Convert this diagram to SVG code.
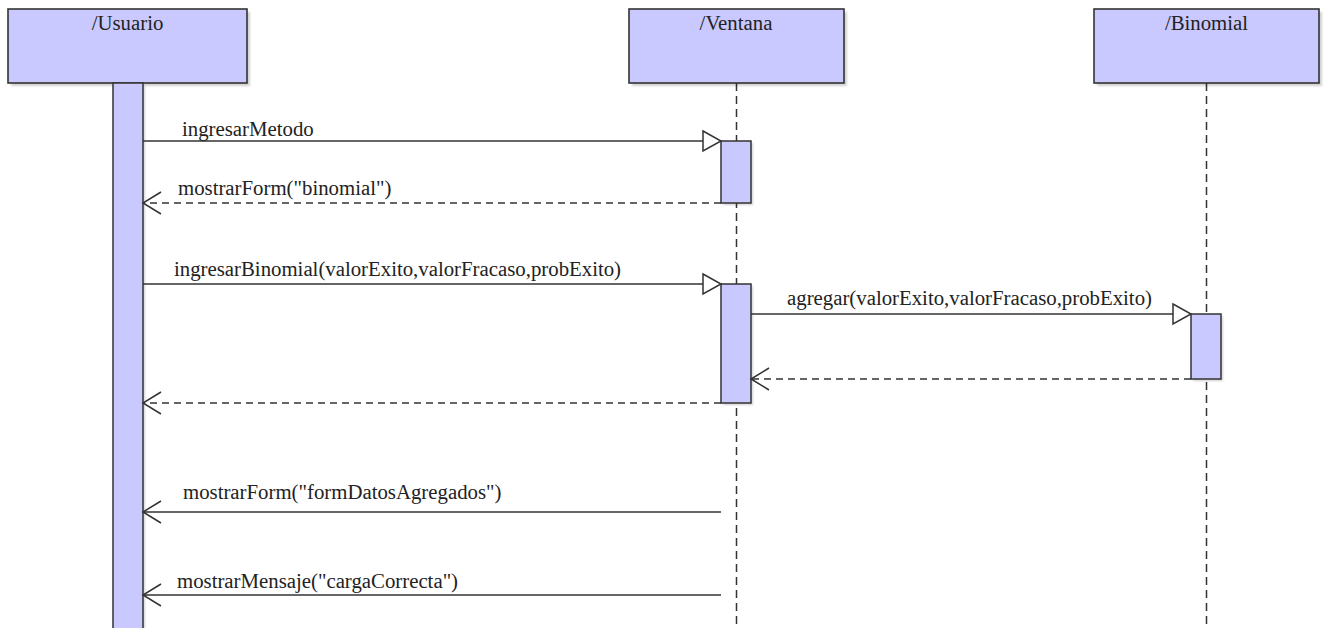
<svg xmlns="http://www.w3.org/2000/svg" width="1327" height="628" viewBox="0 0 1327 628">
  <style>
    .head { fill: #c9c9ff; stroke: #333; stroke-width: 1.6; }
    .shadow { fill: #000; opacity: 0.18; }
    .act { fill: #c9c9ff; stroke: #333; stroke-width: 1.5; }
    .life { stroke: #333; stroke-width: 1.5; stroke-dasharray: 8 5; fill: none; }
    .msg { stroke: #333; stroke-width: 1.5; fill: none; }
    .ret { stroke: #333; stroke-width: 1.5; fill: none; stroke-dasharray: 7 5; }
    .call { marker-end: url(#tri); }
    .reply { marker-end: url(#open); }
    .lbl { font-family: 'Liberation Serif', 'Times New Roman', serif; font-size: 20.8px; fill: #222; }
    .title { text-anchor: middle; }
  </style>
  <defs>
    <filter id="blur" x="-10%" y="-10%" width="120%" height="120%">
      <feGaussianBlur stdDeviation="1"/>
    </filter>
    <!-- hollow triangle for synchronous calls -->
    <marker id="tri" markerUnits="userSpaceOnUse" orient="auto" refX="0" refY="0" markerWidth="20" markerHeight="24" overflow="visible">
      <path d="M-18,-10 L0,0 L-18,10 Z" fill="#fff" stroke="#333" stroke-width="1.5" stroke-linejoin="miter"/>
    </marker>
    <!-- open chevron for replies -->
    <marker id="open" markerUnits="userSpaceOnUse" orient="auto" refX="0" refY="0" markerWidth="20" markerHeight="24" overflow="visible">
      <path d="M-18,-11 L0,0 L-18,11" fill="none" stroke="#333" stroke-width="1.5"/>
    </marker>
  </defs>

  <rect width="1327" height="628" fill="#fff"/>

  <!-- lifelines -->
  <g id="lifelines">
    <line class="life" x1="736.5" y1="83" x2="736.5" y2="628"/>
    <line class="life" x1="1206.5" y1="83" x2="1206.5" y2="628"/>
  </g>

  <g id="usuario">
    <rect class="shadow" x="11" y="12" width="239" height="74" filter="url(#blur)"/>
    <rect class="head" x="8" y="9" width="239" height="74"/>
    <text class="lbl title" x="127.5" y="30">/Usuario</text>
    <rect class="shadow" x="115" y="86" width="30" height="545" filter="url(#blur)"/>
    <rect class="act" x="113" y="83" width="30" height="550"/>
  </g>

  <g id="ventana">
    <rect class="shadow" x="632" y="12" width="215" height="74" filter="url(#blur)"/>
    <rect class="head" x="629" y="9" width="215" height="74"/>
    <text class="lbl title" x="736" y="30">/Ventana</text>
    <rect class="shadow" x="723" y="143" width="30" height="62" filter="url(#blur)"/>
    <rect class="act" x="721" y="141" width="30" height="62"/>
    <rect class="shadow" x="723" y="286" width="30" height="119" filter="url(#blur)"/>
    <rect class="act" x="721" y="284" width="30" height="119"/>
  </g>

  <g id="binomial">
    <rect class="shadow" x="1097" y="12" width="225" height="74" filter="url(#blur)"/>
    <rect class="head" x="1094" y="9" width="225" height="74"/>
    <text class="lbl title" x="1206.5" y="30">/Binomial</text>
    <rect class="shadow" x="1193" y="316" width="30" height="65" filter="url(#blur)"/>
    <rect class="act" x="1191" y="314" width="30" height="65"/>
  </g>

  <!-- messages -->
  <g id="connectors">
    <line class="msg call" x1="143" y1="141" x2="721" y2="141"/>
    <text class="lbl" x="182" y="135.5">ingresarMetodo</text>

    <line class="ret reply" x1="721" y1="203" x2="143" y2="203"/>
    <text class="lbl" x="178" y="194.5">mostrarForm("binomial")</text>

    <line class="msg call" x1="143" y1="284" x2="721" y2="284"/>
    <text class="lbl" x="174" y="275.5">ingresarBinomial(valorExito,valorFracaso,probExito)</text>

    <line class="msg call" x1="751" y1="314" x2="1191" y2="314"/>
    <text class="lbl" x="787" y="305">agregar(valorExito,valorFracaso,probExito)</text>

    <line class="ret reply" x1="1191" y1="379" x2="751" y2="379"/>

    <line class="ret reply" x1="721" y1="403" x2="143" y2="403"/>

    <line class="msg reply" x1="721" y1="512" x2="143" y2="512"/>
    <text class="lbl" x="183" y="498.5">mostrarForm("formDatosAgregados")</text>

    <line class="msg reply" x1="721" y1="595" x2="143" y2="595"/>
    <text class="lbl" x="177" y="588">mostrarMensaje("cargaCorrecta")</text>
  </g>
</svg>
